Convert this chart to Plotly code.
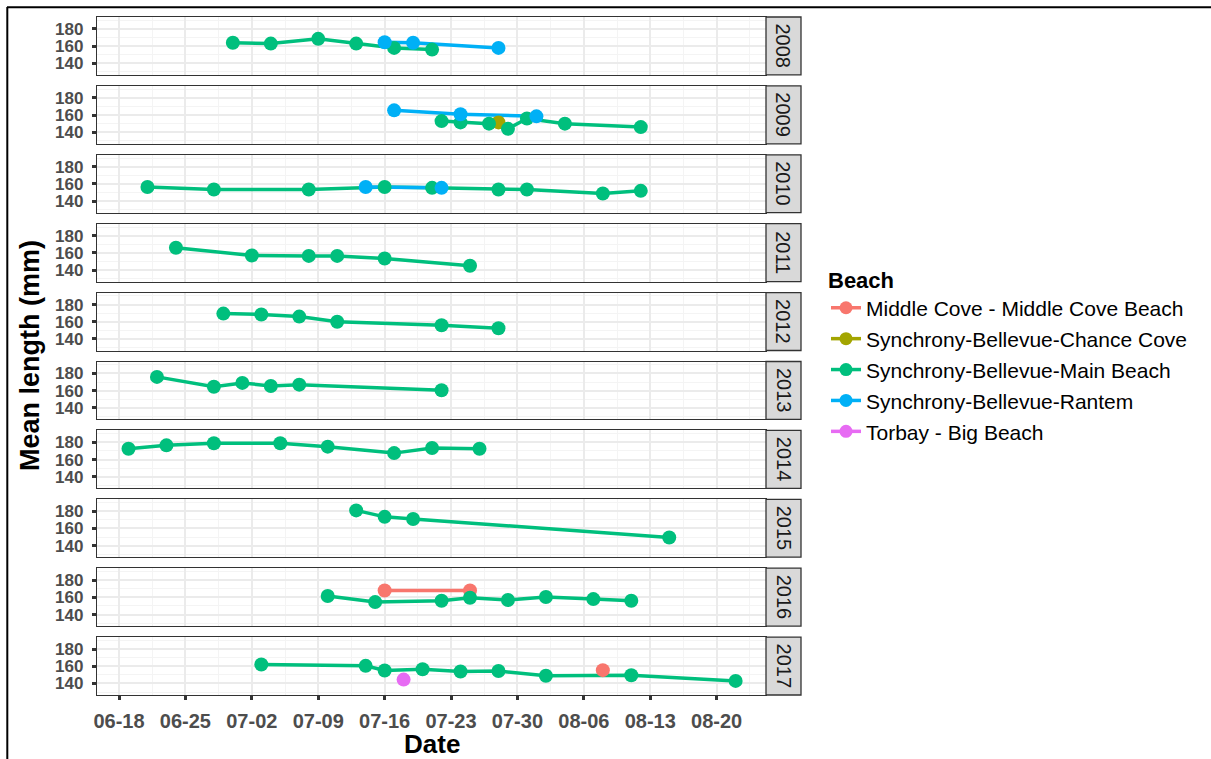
import pandas as pd
import plotly.graph_objects as go
from plotly.subplots import make_subplots

# ---------------- data (dates shown as month-day, plotted on a common year) ----------------
BASE_YEAR = "2000"
years = [2008, 2009, 2010, 2011, 2012, 2013, 2014, 2015, 2016, 2017]
beach_names = [
    "Middle Cove - Middle Cove Beach",
    "Synchrony-Bellevue-Chance Cove",
    "Synchrony-Bellevue-Main Beach",
    "Synchrony-Bellevue-Rantem",
    "Torbay - Big Beach",
]
beach_colors = ["#F8766D", "#A3A500", "#00BF7D", "#00B0F6", "#E76BF3"]

main_2008_dates = ["06-30", "07-04", "07-09", "07-13", "07-17", "07-21"]
main_2008_len = [164, 163, 168.5, 163, 158, 156]
rantem_2008_dates = ["07-16", "07-19", "07-28"]
rantem_2008_len = [164.5, 164, 158]

chance_2009_dates = ["07-28"]
chance_2009_len = [151.5]
main_2009_dates = ["07-22", "07-24", "07-27", "07-29", "07-31", "08-04", "08-12"]
main_2009_len = [153, 151.5, 150, 144, 156, 150, 146]
rantem_2009_dates = ["07-17", "07-24", "08-01"]
rantem_2009_len = [165.5, 161, 158.5]

main_2010_dates = ["06-21", "06-28", "07-08", "07-16", "07-21", "07-28", "07-31", "08-08", "08-12"]
main_2010_len = [156.5, 153.5, 153.5, 156.5, 155.5, 153.5, 153.5, 149, 152]
rantem_2010_dates = ["07-14", "07-22"]
rantem_2010_len = [156.5, 155.5]

main_2011_dates = ["06-24", "07-02", "07-08", "07-11", "07-16", "07-25"]
main_2011_len = [166, 157, 156.5, 156.5, 153.5, 145]

main_2012_dates = ["06-29", "07-03", "07-07", "07-11", "07-22", "07-28"]
main_2012_len = [169.5, 168.5, 166, 160, 156, 152.5]

main_2013_dates = ["06-22", "06-28", "07-01", "07-04", "07-07", "07-22"]
main_2013_len = [176, 164.5, 169, 165.5, 167, 160.5]

main_2014_dates = ["06-19", "06-23", "06-28", "07-05", "07-10", "07-17", "07-21", "07-26"]
main_2014_len = [172.5, 176.5, 179, 179, 175, 167.5, 173.5, 172.5]

main_2015_dates = ["07-13", "07-16", "07-19", "08-15"]
main_2015_len = [181, 173.5, 171, 149.5]

middle_2016_dates = ["07-16", "07-25"]
middle_2016_len = [168, 168]
main_2016_dates = ["07-10", "07-15", "07-22", "07-25", "07-29", "08-02", "08-07", "08-11"]
main_2016_len = [161.5, 154.5, 156, 159.5, 157, 160.5, 158, 156]

middle_2017_dates = ["08-08"]
middle_2017_len = [155.5]
main_2017_dates = ["07-03", "07-14", "07-16", "07-20", "07-24", "07-28", "08-02", "08-11", "08-22"]
main_2017_len = [162, 160.5, 155, 156.5, 154, 154.5, 149, 149.5, 143]
torbay_2017_dates = ["07-18"]
torbay_2017_len = [144.5]

# (year, beach index, dates, lengths) in ggplot group order
series = [
    (2008, 2, main_2008_dates, main_2008_len),
    (2008, 3, rantem_2008_dates, rantem_2008_len),
    (2009, 1, chance_2009_dates, chance_2009_len),
    (2009, 2, main_2009_dates, main_2009_len),
    (2009, 3, rantem_2009_dates, rantem_2009_len),
    (2010, 2, main_2010_dates, main_2010_len),
    (2010, 3, rantem_2010_dates, rantem_2010_len),
    (2011, 2, main_2011_dates, main_2011_len),
    (2012, 2, main_2012_dates, main_2012_len),
    (2013, 2, main_2013_dates, main_2013_len),
    (2014, 2, main_2014_dates, main_2014_len),
    (2015, 2, main_2015_dates, main_2015_len),
    (2016, 0, middle_2016_dates, middle_2016_len),
    (2016, 2, main_2016_dates, main_2016_len),
    (2017, 0, middle_2017_dates, middle_2017_len),
    (2017, 2, main_2017_dates, main_2017_len),
    (2017, 4, torbay_2017_dates, torbay_2017_len),
]


def to_dates(md):
    return pd.to_datetime([f"{BASE_YEAR}-{d}" for d in md])


# ---------------- figure ----------------
W, H = 1211, 759
ML, MR, MT, MB = 97, 1211 - 766, 17, 64
PW, PH = W - ML - MR, H - MT - MB
n = len(years)
gap_px = 11
fig = make_subplots(rows=n, cols=1, shared_xaxes=True, vertical_spacing=gap_px / PH)

FONT = "Liberation Sans, Arial, sans-serif"
LINE_W = 3.5
MARK = 14

# lines first (all panels), then points on top, like ggplot layers
for yr, b, d, v in series:
    fig.add_trace(go.Scatter(x=to_dates(d), y=v, mode="lines",
                             line=dict(color=beach_colors[b], width=LINE_W),
                             showlegend=False, hoverinfo="skip"),
                  row=years.index(yr) + 1, col=1)
for yr, b, d, v in series:
    fig.add_trace(go.Scatter(x=to_dates(d), y=v, mode="markers",
                             marker=dict(color=beach_colors[b], size=MARK),
                             name=beach_names[b], showlegend=False),
                  row=years.index(yr) + 1, col=1)

# legend keys
for i, (nm, c) in enumerate(zip(beach_names, beach_colors)):
    fig.add_trace(go.Scatter(x=[None], y=[None], mode="lines+markers", name=nm,
                             legendgroup=nm, legendrank=i + 1,
                             line=dict(color=c, width=LINE_W),
                             marker=dict(color=c, size=13)),
                  row=1, col=1)

DAY_MS = 86400000
x_lo = pd.Timestamp(f"{BASE_YEAR}-06-18") - pd.Timedelta(hours=2.32 * 24)
x_hi = pd.Timestamp(f"{BASE_YEAR}-06-18") + pd.Timedelta(hours=68.2 * 24)

grid_major = "#EBEBEB"
grid_minor = "#F4F4F4"
frame = "#333333"

for r in range(1, n + 1):
    last = r == n
    fig.update_xaxes(
        row=r, col=1, type="date", range=[x_lo, x_hi],
        tick0=f"{BASE_YEAR}-06-18", dtick=7 * DAY_MS, tickformat="%m-%d",
        showgrid=True, gridcolor=grid_major, gridwidth=1.6,
        minor=dict(tick0=f"{BASE_YEAR}-06-18", dtick=3.5 * DAY_MS, showgrid=True,
                   gridcolor=grid_minor, gridwidth=0.9),
        showline=True, mirror=True, linecolor=frame, linewidth=1.3,
        ticks="outside" if last else "", ticklen=4, tickwidth=2.5, tickcolor=frame,
        showticklabels=last, ticklabelstandoff=4,
        tickfont=dict(family=FONT, size=20, color="#4D4D4D", weight="bold"),
        zeroline=False,
    )
    fig.update_yaxes(
        row=r, col=1, range=[126.6, 193.9], tick0=0, dtick=20,
        showgrid=True, gridcolor=grid_major, gridwidth=1.6,
        minor=dict(tick0=0, dtick=10, showgrid=True, gridcolor=grid_minor, gridwidth=0.9),
        showline=True, mirror=True, linecolor=frame, linewidth=1.3,
        ticks="outside", ticklen=4, tickwidth=2.5, tickcolor=frame,
        ticklabelstandoff=5,
        tickfont=dict(family=FONT, size=17, color="#4D4D4D", weight="bold"),
        zeroline=False,
    )

# facet strips on the right
strip_x1 = (801 - ML) / PW
for i, yr in enumerate(years):
    yname = "yaxis" if i == 0 else f"yaxis{i + 1}"
    d0, d1 = fig.layout[yname].domain
    fig.add_shape(type="rect", xref="paper", yref="paper", x0=1.0, x1=strip_x1,
                  y0=d0, y1=d1, fillcolor="#D9D9D9", line=dict(color=frame, width=1.3))
    fig.add_annotation(xref="paper", yref="paper", x=(1.0 + strip_x1) / 2, y=(d0 + d1) / 2,
                       xanchor="center", yanchor="middle",
                       text=str(yr), showarrow=False, textangle=90,
                       font=dict(family=FONT, size=20, color="#1A1A1A"))

# axis titles
fig.add_annotation(xref="paper", yref="paper", x=(30 - ML) / PW, y=0.5, text="Mean length (mm)",
                   showarrow=False, textangle=-90, xanchor="center", yanchor="middle",
                   font=dict(family=FONT, size=27, color="black", weight="bold"))
fig.add_annotation(xref="paper", yref="paper", x=(432 - ML) / PW, y=1 - (744 - MT) / PH,
                   text="Date", showarrow=False, xanchor="center", yanchor="middle",
                   font=dict(family=FONT, size=26, color="black", weight="bold"))

# outer frame lines (top and left) seen in the reference
px = lambda v: (v - ML) / PW
py = lambda v: 1 - (v - MT) / PH
fig.add_shape(type="line", xref="paper", yref="paper", x0=px(7), x1=px(1211), y0=py(7.3), y1=py(7.3),
              line=dict(color="black", width=2))
fig.add_shape(type="line", xref="paper", yref="paper", x0=px(7.3), x1=px(7.3), y0=py(7), y1=py(759),
              line=dict(color="black", width=2))

fig.update_layout(
    width=W, height=H,
    margin=dict(l=ML, r=MR, t=MT, b=MB),
    paper_bgcolor="white", plot_bgcolor="white",
    font=dict(family=FONT),
    showlegend=True,
    legend=dict(
        x=px(826), y=py(259), xanchor="left", yanchor="top",
        title=dict(text="Beach", font=dict(family=FONT, size=22, color="black", weight="bold")),
        font=dict(family=FONT, size=21, color="black"),
        tracegroupgap=0.6, bgcolor="rgba(0,0,0,0)", itemwidth=30,
    ),
)

fig.write_html("out.html", config={"displayModeBar": False},
               post_script="document.body.style.margin='0';")
